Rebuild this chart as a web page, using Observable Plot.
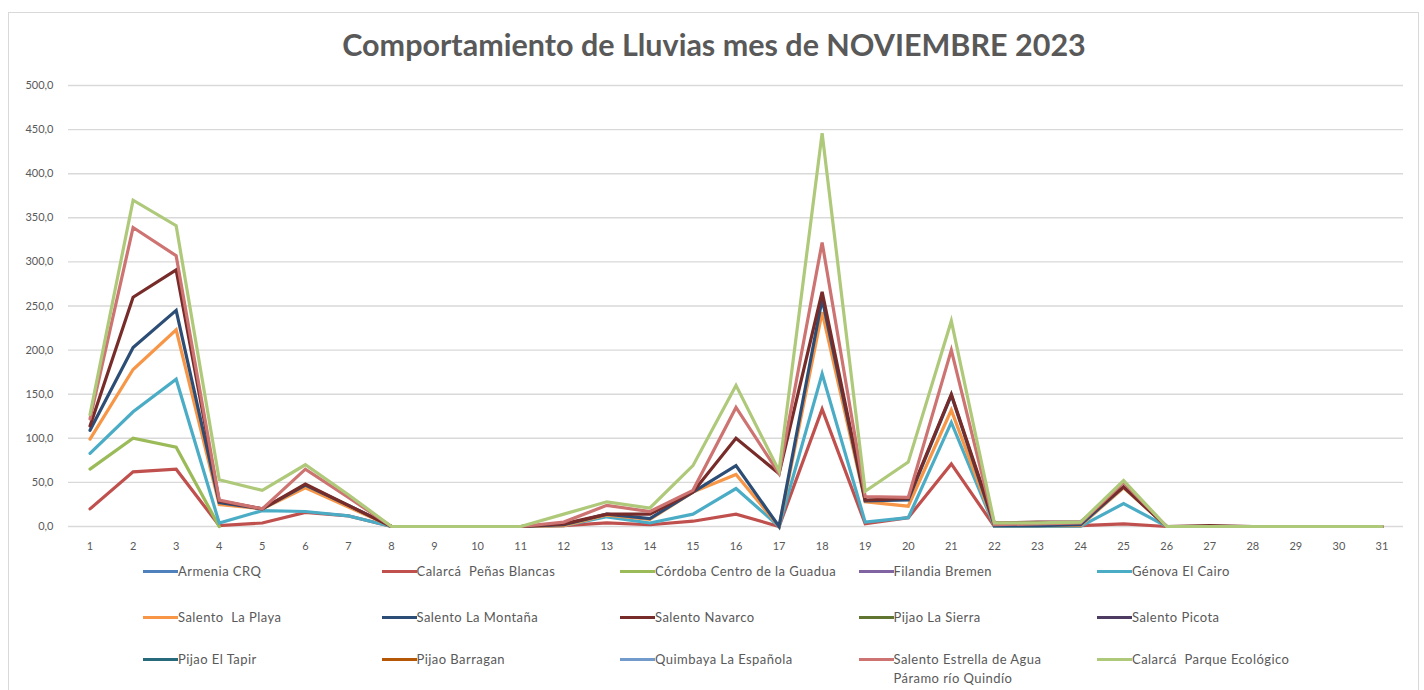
<!DOCTYPE html>
<html>
<head>
<meta charset="utf-8">
<script src="https://cdn.jsdelivr.net/npm/d3@7"></script>
<script src="https://cdn.jsdelivr.net/npm/@observablehq/plot@0.6"></script>
<style>
  html, body { margin: 0; padding: 0; background: #fff; }
  body { width: 1424px; height: 690px; position: relative; overflow: hidden; font-family: Lato, "Open Sans", sans-serif; }
  #frame { position: absolute; left: 8px; top: 12px; width: 1411px; height: 700px; border: 1px solid #d9d9d9; box-sizing: border-box; }
  #title { position: absolute; left: 8px; width: 1412px; top: 29px; line-height: 30px; text-align: center; font-size: 30.5px; font-weight: bold; color: #595959; }
  #chart { position: absolute; left: 0; top: 70px; }
  .leg { position: absolute; display: flex; align-items: flex-start; font-size: 13px; letter-spacing: 0.45px; color: #595959; }
  .leg .sw { width: 35px; height: 3px; margin-top: 8px; flex: none; }
  .leg .tx { white-space: pre; line-height: 19px; }
  .leg .tx.wrap { white-space: pre-wrap; max-width: 180px; }
</style>
</head>
<body>
<div id="frame"></div>
<div id="title">Comportamiento de Lluvias mes de NOVIEMBRE 2023</div>
<div id="chart"></div>
<div id="legend"></div>
<script>
const days = d3.range(1, 32);
const yTicks = d3.range(0, 501, 50);

const stations = [
  "Armenia CRQ",
  "Calarcá  Peñas Blancas",
  "Córdoba Centro de la Guadua",
  "Filandia Bremen",
  "Génova El Cairo",
  "Salento  La Playa",
  "Salento La Montaña",
  "Salento Navarco",
  "Pijao La Sierra",
  "Salento Picota",
  "Pijao El Tapir",
  "Pijao Barragan",
  "Quimbaya La Española",
  "Salento Estrella de Agua Páramo río Quindío",
  "Calarcá  Parque Ecológico"
];
const colors = ["#4F81BD","#C0504D","#9BBB59","#8064A2","#4BACC6","#F79646","#2C4D75","#772C2A","#5F7530","#4D3B62","#276A7C","#B65708","#729ACA","#CD7371","#AFC97A"];

const N = null;
const armeniaCRQ        = [N,N,N,N,N,N,N,N,N,N,N,N,N,N,N,N,N,N,N,N,N,N,N,N,N,N,N,N,N,N,N];
const penasBlancas      = [20,62,65,1,4,16,12,0,0,0,0,1,4,2,6,14,0,133,3,10,71,0,0,1,3,0,0,0,0,0,0];
const cordoba           = [65,100,90,0,N,N,N,N,N,N,N,N,N,N,N,N,N,N,N,N,N,N,N,N,N,N,N,N,N,N,N];
const filandiaBremen    = [N,N,N,N,N,N,N,N,N,N,N,N,N,N,N,N,N,N,N,N,N,N,N,N,N,N,N,N,N,N,N];
const genovaElCairo     = [83,130,167,4,18,17,12,0,0,0,0,1,11,4,14,43,0,173,5,10,118,0,0,0,26,0,0,0,0,0,0];
const salentoLaPlaya    = [99,178,223,25,20,44,22,0,0,0,0,1,13,8,39,59,0,243,28,23,132,1,1,1,44,0,0,0,0,0,0];
const salentoLaMontana  = [109,203,245,27,20,47,24,0,0,0,0,2,14,9,39,69,0,258,29,30,149,1,1,2,45,0,0,0,0,0,0];
const salentoNavarco    = [114,260,291,29,20,48,24,0,0,0,0,3,14,14,39,100,60,266,30,32,150,4,5,5,45,0,1,0,0,0,0];
const pijaoLaSierra     = [N,N,N,N,N,N,N,N,N,N,N,N,N,N,N,N,N,N,N,N,N,N,N,N,N,N,N,N,N,N,N];
const salentoPicota     = [N,N,N,N,N,N,N,N,N,N,N,N,N,N,N,N,N,N,N,N,N,N,N,N,N,N,N,N,N,N,N];
const pijaoElTapir      = [N,N,N,N,N,N,N,N,N,N,N,N,N,N,N,N,N,N,N,N,N,N,N,N,N,N,N,N,N,N,N];
const pijaoBarragan     = [N,N,N,N,N,N,N,N,N,N,N,N,N,N,N,N,N,N,N,N,N,N,N,N,N,N,N,N,N,N,N];
const quimbaya          = [N,N,N,N,N,N,N,N,N,N,N,N,N,N,N,N,N,N,N,N,N,N,N,N,N,N,N,N,N,N,N];
const salentoEstrella   = [122,339,307,30,20,65,33,0,0,0,0,5,24,17,41,135,60,322,34,33,200,2,3,4,50,0,0,0,0,0,0];
const parqueEcologico   = [127,370,341,53,41,70,36,0,0,0,0,14,28,21,69,160,63,446,40,73,233,4,4,5,52,0,0,0,0,0,0];

const series = [armeniaCRQ, penasBlancas, cordoba, filandiaBremen, genovaElCairo, salentoLaPlaya,
  salentoLaMontana, salentoNavarco, pijaoLaSierra, salentoPicota, pijaoElTapir, pijaoBarragan,
  quimbaya, salentoEstrella, parqueEcologico];

const rows = [];
series.forEach((vals, i) => vals.forEach((v, j) => rows.push({station: stations[i], day: days[j], value: v})));

const fmt = d => d.toFixed(1).replace(".", ",");

const chart = Plot.plot({
  width: 1424,
  height: 491,
  marginTop: 15,
  marginBottom: 35,
  marginLeft: 68,
  marginRight: 21,
  style: {fontFamily: "Lato, 'Open Sans', sans-serif", fontSize: "11px", color: "#595959", background: "transparent", overflow: "visible"},
  x: {type: "linear", domain: [0.5, 31.5]},
  y: {domain: [0, 500]},
  color: {domain: stations, range: colors},
  marks: [
    Plot.gridY(yTicks, {stroke: "#d9d9d9", strokeOpacity: 1, strokeWidth: 1.4}),
    Plot.axisY(yTicks, {tickSize: 0, tickPadding: 15, tickFormat: fmt, label: null, fill: "#595959"}),
    Plot.axisX(days, {tickSize: 0, tickPadding: 16, tickFormat: d => String(d), label: null, fill: "#595959"}),
    Plot.line(rows, {x: "day", y: "value", z: "station", stroke: "station", strokeWidth: 3.2,
      defined: d => d.value != null, curve: "linear", strokeLinejoin: "miter", strokeMiterlimit: 4})
  ]
});
document.getElementById("chart").appendChild(chart);

const rowTops = [562, 608, 650];
const legend = document.getElementById("legend");
stations.forEach((s, i) => {
  const col = i % 5, row = Math.floor(i / 5);
  const el = document.createElement("div");
  el.className = "leg";
  el.style.left = (143 + col * 238.5) + "px";
  el.style.top = rowTops[row] + "px";
  const sw = document.createElement("span");
  sw.className = "sw";
  sw.style.background = colors[i];
  const tx = document.createElement("span");
  tx.className = s.length > 30 ? "tx wrap" : "tx";
  tx.textContent = s;
  el.appendChild(sw);
  el.appendChild(tx);
  legend.appendChild(el);
});
</script>
</body>
</html>
